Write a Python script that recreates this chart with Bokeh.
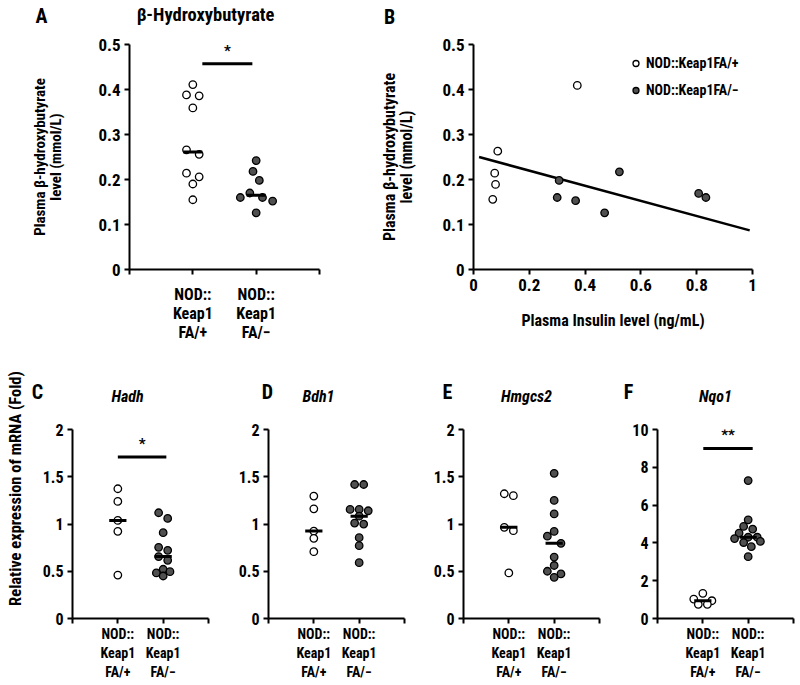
import numpy as np
from bokeh.plotting import figure
from bokeh.layouts import column, row
from bokeh.models import Range1d, FixedTicker, Label, Legend, LegendItem
from bokeh.embed import file_html
from bokeh.resources import INLINE

FONT = "Roboto Condensed, Liberation Sans Narrow, Roboto, sans-serif"
FILL = "#505050"

# ---------------- data ----------------
groups = ["NOD::\nKeap1\nFA/+", "NOD::\nKeap1\nFA/\u2212"]

# Panel A: plasma beta-hydroxybutyrate (mmol/L)
hb_plus = [0.411, 0.388, 0.386, 0.359, 0.266, 0.256, 0.214, 0.206, 0.190, 0.155]
hb_plus_jit = [0, -0.1, 0.1, 0, -0.1, 0.1, -0.1, 0.1, 0, 0]
hb_minus = [0.242, 0.218, 0.198, 0.170, 0.160, 0.160, 0.152, 0.126]
hb_minus_jit = [0, -0.05, 0.05, -0.1, -0.25, 0.1, 0.26, 0]
hb_sig = {"x0": 1.15, "x1": 1.94, "y": 0.457, "text": "*", "ty": 0.485}

# Panel B: insulin (ng/mL) vs beta-hydroxybutyrate (mmol/L)
ins_plus = [0.069, 0.079, 0.076, 0.087, 0.372]
bhb_plus = [0.156, 0.189, 0.214, 0.263, 0.409]
ins_minus = [0.300, 0.307, 0.366, 0.470, 0.523, 0.807, 0.833]
bhb_minus = [0.160, 0.198, 0.153, 0.126, 0.217, 0.169, 0.160]
fit_x = [0.02, 0.99]
fit_y = [0.250, 0.087]
legend_labels = ["NOD::Keap1FA/+", "NOD::Keap1FA/\u2212"]

# Panels C-F: relative mRNA expression (fold)
hadh_plus = [1.373, 1.239, 1.038, 0.922, 0.460]
hadh_plus_jit = [0, 0, 0, 0, 0]
hadh_minus = [1.119, 1.059, 0.908, 0.753, 0.721, 0.655, 0.616, 0.521, 0.482, 0.496, 0.450]
hadh_minus_jit = [-0.1, 0.1, 0, -0.1, 0.1, -0.1, 0.1, 0, -0.15, 0.15, 0]
hadh_sig = {"x0": 1.0, "x1": 2.07, "y": 1.71, "text": "*", "ty": 1.85}

bdh1_plus = [1.295, 1.161, 0.925, 0.848, 0.707]
bdh1_plus_jit = [0, 0, 0, 0, 0]
bdh1_minus = [1.418, 1.418, 1.154, 1.154, 1.140, 1.083, 1.010, 0.999, 0.855, 0.771, 0.591]
bdh1_minus_jit = [-0.1, 0.1, -0.2, 0, 0.2, 0, -0.1, 0.1, 0, 0, 0]

hmgcs2_plus = [1.320, 1.300, 0.965, 0.929, 0.482]
hmgcs2_plus_jit = [-0.1, 0.1, -0.1, 0.1, 0]
hmgcs2_minus = [1.536, 1.250, 1.107, 0.921, 0.871, 0.796, 0.650, 0.561, 0.500, 0.472, 0.436]
hmgcs2_minus_jit = [0, 0, 0, 0, -0.15, 0.15, 0, 0, -0.15, 0.15, 0]

nqo1_plus = [1.33, 1.03, 0.94, 0.75, 0.75]
nqo1_plus_jit = [0, -0.2, 0.2, -0.1, 0.1]
nqo1_minus = [7.30, 5.22, 4.87, 4.73, 4.52, 4.23, 4.30, 4.30, 4.08, 4.02, 3.80, 3.27]
nqo1_minus_jit = [0, 0, -0.1, 0.1, -0.2, -0.3, 0, 0.2, 0.27, -0.1, 0.07, 0]
nqo1_sig = {"x0": 1.01, "x1": 2.1, "y": 9.0, "text": "**", "ty": 9.7}

hb_yticks = [0, 0.1, 0.2, 0.3, 0.4, 0.5]
hb_ylabels = ["0", "0.1", "0.2", "0.3", "0.4", "0.5"]
ins_xticks = [0, 0.2, 0.4, 0.6, 0.8, 1]
ins_xlabels = ["0", "0.2", "0.4", "0.6", "0.8", "1"]
fold_yticks = [0, 0.5, 1, 1.5, 2]
fold_ylabels = ["0", "0.5", "1", "1.5", "2"]
nqo1_yticks = [0, 2, 4, 6, 8, 10]
nqo1_ylabels = ["0", "2", "4", "6", "8", "10"]

panel_letters = ["A", "B", "C", "D", "E", "F"]
panel_titles = ["\u03b2-Hydroxybutyrate", "Hadh", "Bdh1", "Hmgcs2", "Nqo1"]
fold_ylabel = "Relative expression of mRNA (Fold)"
hb_ylabel = "Plasma \u03b2-hydroxybutyrate\nlevel (mmol/L)"
ins_xlabel = "Plasma Insulin level (ng/mL)"


# ---------------- helpers ----------------
def make_fig(left, top, w, h, fl, fr, ft, fb, xr, yr, tick_size="16px"):
    p = figure(width=w, height=h, x_range=Range1d(*xr), y_range=Range1d(*yr),
               output_backend="svg", toolbar_location=None, tools="",
               min_border_left=fl - left, min_border_right=left + w - fr,
               min_border_top=ft - top, min_border_bottom=top + h - fb)
    p.outline_line_color = None
    p.xgrid.visible = False
    p.ygrid.visible = False
    p.background_fill_color = "white"
    p.border_fill_color = "white"
    for ax in p.axis:
        ax.axis_line_width = 2
        ax.axis_line_color = "black"
        ax.major_tick_line_width = 2
        ax.major_tick_line_color = "black"
        ax.major_tick_in = 0
        ax.major_tick_out = 5
        ax.minor_tick_line_color = None
        ax.major_label_text_font = FONT
        ax.major_label_text_font_style = "bold"
        ax.major_label_text_font_size = tick_size
        ax.major_label_text_color = "black"
        ax.major_label_standoff = 4
        ax.axis_label_text_font = FONT
        ax.axis_label_text_font_style = "bold"
        ax.axis_label_text_font_size = "15px"
        ax.axis_label_text_color = "black"
    return p


def text_fig(x0, y0, w, h):
    # blank strip whose data coordinates equal page pixels (y downward)
    p = figure(width=w, height=h, x_range=Range1d(x0, x0 + w), y_range=Range1d(y0 + h, y0),
               output_backend="svg", toolbar_location=None, tools="",
               x_axis_location=None, y_axis_location=None, min_border=0)
    p.outline_line_color = None
    p.xgrid.visible = False
    p.ygrid.visible = False
    p.background_fill_color = "white"
    p.border_fill_color = "white"
    return p


def add_label(p, x, y, text, size, style="bold", angle=0.0):
    p.add_layout(Label(x=x, y=y, text=text, text_font=FONT, text_font_size=size,
                       text_font_style=style, text_align="center", text_baseline="middle",
                       angle=angle, text_color="black"))


def set_yticks(p, ticks, labels):
    p.yaxis.ticker = FixedTicker(ticks=ticks)
    p.yaxis.major_label_overrides = {t: l for t, l in zip(ticks, labels)}


def set_group_axis(p, size="14px", lh=1.2, standoff=2):
    p.xaxis.ticker = FixedTicker(ticks=[0, 1, 2, 3])
    p.xaxis.major_label_overrides = {0: "", 1: groups[0], 2: groups[1], 3: ""}
    p.xaxis.major_label_text_font_size = size
    p.xaxis.major_label_text_line_height = lh
    p.xaxis.major_label_standoff = standoff


def dots(p, plus, plus_jit, minus, minus_jit, half):
    p.scatter(x=1 + np.array(plus_jit), y=plus, size=7.5, fill_color="white",
              line_color="black", line_width=1.3)
    p.scatter(x=2 + np.array(minus_jit), y=minus, size=7.5, fill_color=FILL,
              line_color="black", line_width=1.3)
    for xc, vals in ((1, plus), (2, minus)):
        m = float(np.median(vals))
        p.segment(x0=[xc - half], x1=[xc + half], y0=[m], y1=[m],
                  line_width=3, line_color="black")


def sig(p, s, size="15px"):
    p.segment(x0=[s["x0"]], x1=[s["x1"]], y0=[s["y"]], y1=[s["y"]],
              line_width=3, line_color="black")
    add_label(p, (s["x0"] + s["x1"]) / 2, s["ty"], s["text"], size)


# ---------------- top row ----------------
head_top = text_fig(0, 0, 800, 30)
add_label(head_top, 41, 15, panel_letters[0], "20px")
add_label(head_top, 205, 14, panel_titles[0], "18.5px")
add_label(head_top, 389, 16, panel_letters[1], "20px")

TOP_Y, TOP_H = 30, 330
pA = make_fig(0, TOP_Y, 330, TOP_H, 129, 319, 43, 273, (0, 3), (0, 0.5), tick_size="17px")
set_group_axis(pA, size="16px", lh=1.02, standoff=10)
set_yticks(pA, hb_yticks, hb_ylabels)
pA.yaxis.axis_label = hb_ylabel
pA.yaxis.axis_label_standoff = 30
pA.yaxis.axis_label_text_line_height = 0.9
dots(pA, hb_plus, hb_plus_jit, hb_minus, hb_minus_jit, 0.15)
sig(pA, hb_sig)

pB = make_fig(330, TOP_Y, 470, TOP_H, 473, 752, 44, 269, (0, 1), (0, 0.5), tick_size="17px")
pB.xaxis.ticker = FixedTicker(ticks=ins_xticks)
pB.xaxis.major_label_overrides = {t: l for t, l in zip(ins_xticks, ins_xlabels)}
set_yticks(pB, hb_yticks, hb_ylabels)
pB.yaxis.axis_label = hb_ylabel
pB.yaxis.axis_label_standoff = 23
pB.yaxis.axis_label_text_line_height = 0.9
pB.yaxis.axis_label_text_font_size = "16px"
pB.xaxis.axis_label = ins_xlabel
pB.xaxis.axis_label_text_font_size = "16px"
pB.xaxis.axis_label_standoff = 17
pB.line(fit_x, fit_y, line_width=2.5, line_color="black")
rp = pB.scatter(ins_plus, bhb_plus, size=7.5, fill_color="white", line_color="black", line_width=1.3)
rm = pB.scatter(ins_minus, bhb_minus, size=7.5, fill_color=FILL, line_color="black", line_width=1.3)
leg = Legend(items=[LegendItem(label=legend_labels[0], renderers=[rp]),
                    LegendItem(label=legend_labels[1], renderers=[rm])],
             location=(155, 169), glyph_width=15, glyph_height=20, label_height=20,
             label_standoff=3, spacing=7, padding=0, margin=0,
             border_line_color=None, background_fill_alpha=0,
             label_text_font=FONT, label_text_font_style="bold",
             label_text_font_size="14px", label_text_color="black")
pB.add_layout(leg)

# ---------------- bottom row ----------------
BOT_Y = TOP_Y + TOP_H          # 360
strip = text_fig(0, BOT_Y, 30, 324)
add_label(strip, 15, 488, fold_ylabel, "16.5px", angle=np.pi / 2)

head_bot = text_fig(30, BOT_Y, 770, 45)
for lx, letter in zip([37, 267, 447, 628], panel_letters[2:]):
    add_label(head_bot, lx, 391, letter, "20px")
for tx, gene in zip([127, 318, 526, 715], panel_titles[1:]):
    add_label(head_bot, tx, 396, gene, "16px", style="bold italic")

FIG_Y, FIG_H = BOT_Y + 45, 279
FT, FB = 429, 618
pC = make_fig(30, FIG_Y, 185, FIG_H, 72, 208, FT, FB, (0, 3), (0, 2))
pD = make_fig(215, FIG_Y, 195, FIG_H, 268, 404, FT, FB, (0, 3), (0, 2))
pE = make_fig(410, FIG_Y, 195, FIG_H, 463, 599, FT, FB, (0, 3), (0, 2))
pF = make_fig(605, FIG_Y, 195, FIG_H, 657, 793, FT, FB, (0, 3), (0, 10))

for p in (pC, pD, pE):
    set_group_axis(p)
    set_yticks(p, fold_yticks, fold_ylabels)
set_group_axis(pF)
set_yticks(pF, nqo1_yticks, nqo1_ylabels)

dots(pC, hadh_plus, hadh_plus_jit, hadh_minus, hadh_minus_jit, 0.19)
sig(pC, hadh_sig)
dots(pD, bdh1_plus, bdh1_plus_jit, bdh1_minus, bdh1_minus_jit, 0.19)
dots(pE, hmgcs2_plus, hmgcs2_plus_jit, hmgcs2_minus, hmgcs2_minus_jit, 0.19)
dots(pF, nqo1_plus, nqo1_plus_jit, nqo1_minus, nqo1_minus_jit, 0.19)
sig(pF, nqo1_sig)

layout = column(head_top, row(pA, pB),
                row(strip, column(head_bot, row(pC, pD, pE, pF))))
open("out.html", "w").write(file_html(layout, INLINE))
